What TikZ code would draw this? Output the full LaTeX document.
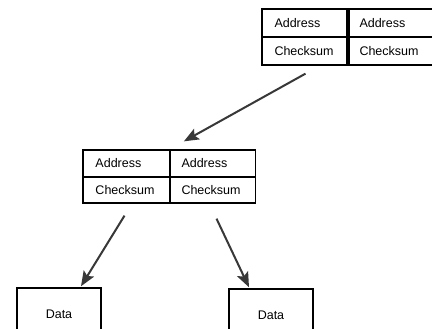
\documentclass[tikz,border=0pt]{standalone}
\usepackage{fontspec}
\setmainfont{Liberation Sans}
\usetikzlibrary{arrows.meta,calc}
\begin{document}
\begin{tikzpicture}[x=1pt,y=-1pt,
  cell/.style={draw=black, line width=1.3pt, minimum width=87pt, minimum height=28pt,
    text width=62pt, inner xsep=12pt, align=left, font=\fontsize{12.5}{14}\selectfont},
  databox/.style={draw=black, line width=1.5pt, minimum width=84pt, minimum height=52pt,
    font=\fontsize{12.5}{14}\selectfont},
  link/.style={draw=black!78, line width=2pt, -{Stealth[length=15pt,width=12pt,inset=3pt]}}]
\useasboundingbox (0,0) rectangle (432,329);
\clip (0,0) rectangle (432,329);
\fill[white] (0,0) rectangle (432,329);

% upper table
\node[cell] (ta1) at (305.5,23) {Address};
\node[cell] (ta2) at (390.5,23) {Address};
\node[cell] (tc1) at (305.5,51) {Checksum};
\node[cell] (tc2) at (390.5,51) {Checksum};

% middle table
\node[cell, minimum height=27pt] (ma1) at (126.5,163.5) {Address};
\node[cell, minimum height=27pt, minimum width=85pt] (ma2) at (212.5,163.5) {Address};
\node[cell, minimum height=26pt] (mc1) at (126.5,190) {Checksum};
\node[cell, minimum height=26pt, minimum width=85pt] (mc2) at (212.5,190) {Checksum};

% data blocks
\node[databox] (d1) at (59,314) {Data};
\node[databox] (d2) at (271,315) {Data};

% arrow end points
\coordinate (s1) at ($(tc1.south)+(0,8)$);
\coordinate (e1) at ($(ma2.north west)+(15,-8)$);
\coordinate (s2) at ($(mc1.south)+(-2,12)$);
\coordinate (e2) at ($(d1.north)+(22,-1)$);
\coordinate (s3) at ($(mc2.south)+(4,15)$);
\coordinate (e3) at ($(d2.north)+(-22,-1)$);

\draw[link] (s1) -- (e1);
\draw[link] (s2) -- (e2);
\draw[link] (s3) -- (e3);
\end{tikzpicture}
\end{document}
